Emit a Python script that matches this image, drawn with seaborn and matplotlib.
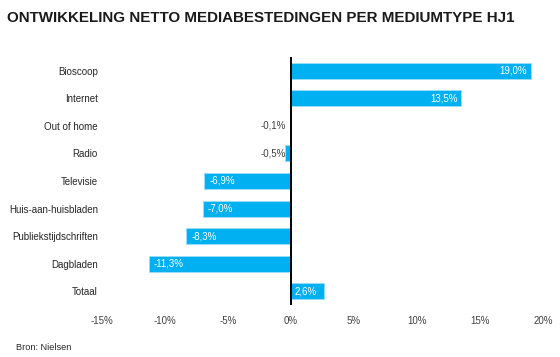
import matplotlib
matplotlib.use("Agg")
import matplotlib.pyplot as plt
import seaborn as sns
import pandas as pd

categories = ["Bioscoop", "Internet", "Out of home", "Radio", "Televisie",
              "Huis-aan-huisbladen", "Publiekstijdschriften", "Dagbladen", "Totaal"]
values = [19.0, 13.5, -0.1, -0.5, -6.9, -7.0, -8.3, -11.3, 2.6]
xticks = [-15, -10, -5, 0, 5, 10, 15, 20]

sns.set_theme(style="white")
plt.rcParams['font.family'] = ['Liberation Sans', 'DejaVu Sans']

df = pd.DataFrame({"cat": categories, "val": values})

fig = plt.figure(figsize=(5.6, 3.57), dpi=100)
ax = fig.add_axes([0.182, 0.146, 0.788, 0.694])
sns.barplot(data=df, x="val", y="cat", orient="h", color="#00B0F0",
            saturation=1, width=0.58, edgecolor="#9FDDF7", linewidth=0.6, ax=ax)

ax.set_xlim(-15, 20)
ax.set_ylim(8.5, -0.5)
ax.set_xticks(xticks)
ax.set_xticklabels([f"{t}%" for t in xticks], fontsize=7, color="#404040")
ax.tick_params(axis="y", labelsize=7, colors="#262626", length=0, pad=3)
ax.tick_params(axis="x", length=0, pad=8)
ax.set_xlabel("")
ax.set_ylabel("")
for s in ax.spines.values():
    s.set_visible(False)
ax.axvline(0, color="black", lw=1.4, zorder=5)

for i, v in enumerate(values):
    txt = f"{v:.1f}%".replace(".", ",")
    if abs(v) < 1:
        ax.text(-0.4, i, txt, ha="right", va="center", fontsize=7, color="#404040")
    elif v > 5:
        ax.text(v - 0.3, i, txt, ha="right", va="center", fontsize=7, color="white")
    elif v > 0:
        ax.text(0.3, i, txt, ha="left", va="center", fontsize=7, color="white")
    else:
        ax.text(v + 0.4, i, txt, ha="left", va="center", fontsize=7, color="white")

fig.text(0.012, 0.95, "ONTWIKKELING NETTO MEDIABESTEDINGEN PER MEDIUMTYPE HJ1",
         fontsize=10.9, fontweight="bold", color="#1a1a1a", va="center", ha="left")
fig.text(0.028, 0.028, "Bron: Nielsen", fontsize=6.6, color="#262626", va="center", ha="left")

fig.savefig("out.png", dpi=100)
